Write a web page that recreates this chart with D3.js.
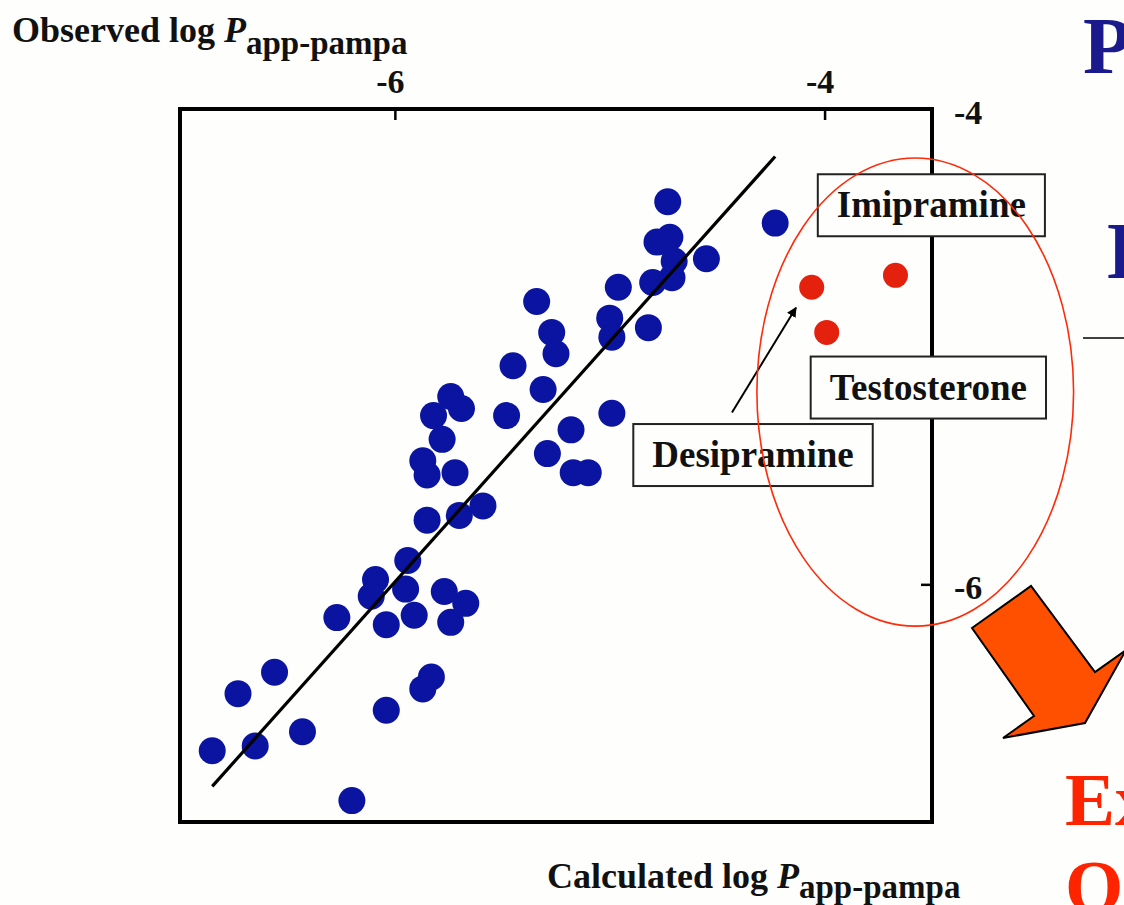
<!DOCTYPE html>
<html>
<head>
<meta charset="utf-8">
<script src="https://cdn.jsdelivr.net/npm/d3@7"></script>
<style>
  html, body { margin: 0; padding: 0; background: #fefefc; }
  svg { display: block; }
  text { font-family: "Liberation Serif", "Times New Roman", serif; font-weight: bold; }
</style>
</head>
<body>
<svg id="chart" width="1124" height="905"></svg>
<script>
// Compounds that follow the PAMPA model: calculated vs observed log Papp
const fitCalc = [-4.73, -4.78, -4.72, -4.55, -4.71, -4.70, -4.80, -4.96, -5.34, -5.00,
                 -4.99, -4.82, -5.27, -5.25, -5.45, -5.31, -5.74, -5.69, -5.82, -5.48,
                 -4.99, -5.18, -5.78, -5.29, -5.87, -5.85, -5.72, -5.17, -5.10, -5.85,
                 -5.70, -5.59, -5.94, -6.09, -6.11, -5.95, -6.27, -6.04, -5.91, -5.77,
                 -5.67, -5.74, -5.83, -5.87, -6.04, -6.56, -6.73, -6.85, -6.65, -6.43,
                 -6.20, -4.23];
const fitObs  = [-4.39, -4.56, -4.54, -4.63, -4.71, -4.64, -4.73, -4.75, -4.81, -4.88,
                 -4.96, -4.92, -4.94, -5.03, -5.08, -5.18, -5.21, -5.26, -5.29, -5.29,
                 -5.28, -5.35, -5.39, -5.45, -5.48, -5.54, -5.53, -5.53, -5.53, -5.73,
                 -5.71, -5.67, -5.90, -5.98, -6.05, -6.02, -6.14, -6.17, -6.13, -6.03,
                 -6.08, -6.16, -6.39, -6.44, -6.53, -6.37, -6.46, -6.70, -6.68, -6.62,
                 -6.91, -4.48];

// Outliers (Imipramine, Testosterone, Desipramine)
const outlierCalc = [-4.06, -3.67, -3.99];
const outlierObs  = [-4.75, -4.70, -4.94];

// Regression line end points
const lineCalc = [-6.85, -4.23];
const lineObs  = [-6.85, -4.20];

// Axis ticks
const xTicks = [-6, -4];
const yTicks = [-4, -6];

// Annotation labels
const labelNames = ["Imipramine", "Testosterone", "Desipramine"];

// ---- layout ----
const W = 1124, H = 905;
const frame = { left: 180, right: 932, top: 109, bottom: 822 };
const labelPos = [            // label centres, in data units
  { x: -3.503, y: -4.405 },
  { x: -3.517, y: -5.172 },
  { x: -4.333, y: -5.456 }
];
const pointerFrom = { x: -4.431, y: -5.277 };
const pointerTo   = { x: -4.133, y: -4.836 };
const ring = { cx: -3.578, cy: -5.191, rx: 0.737, ry: 0.985 };

const blue = "#0a14a0", red = "#e4210d";

const svg = d3.select("#chart");

const x = d3.scaleLinear().domain([-7, -3.5]).range([frame.left, frame.right]);
const y = d3.scaleLinear().domain([-7, -4]).range([frame.bottom, frame.top]);

svg.append("rect").attr("width", W).attr("height", H).attr("fill", "#fefefc");

// plot frame
svg.append("rect")
  .attr("x", x(-7)).attr("y", y(-4))
  .attr("width", x(-3.5) - x(-7)).attr("height", y(-7) - y(-4))
  .attr("fill", "none").attr("stroke", "#000").attr("stroke-width", 4);

// top axis (calculated values)
const plain = d => String(d);
const gx = svg.append("g").attr("transform", `translate(0,${frame.top})`)
  .call(d3.axisTop(x).tickValues(xTicks).tickFormat(plain)
          .tickSizeInner(-11).tickSizeOuter(0).tickPadding(16));
// right axis (observed values)
const gy = svg.append("g").attr("transform", `translate(${frame.right},0)`)
  .call(d3.axisRight(y).tickValues(yTicks).tickFormat(plain)
          .tickSizeInner(-11).tickSizeOuter(0).tickPadding(22));
[gx, gy].forEach(g => {
  g.select(".domain").remove();
  g.selectAll(".tick line").attr("stroke", "#000").attr("stroke-width", 2.5);
  g.selectAll(".tick text")
    .attr("font-size", 34).attr("font-family", "Liberation Serif, serif")
    .attr("font-weight", "bold").attr("fill", "#111");
});
gx.selectAll(".tick text").attr("dx", -5);
gy.selectAll(".tick text").attr("dy", "0.42em");

// axis titles
function title(xPos, yBase, main, sub, shift) {
  const t = svg.append("text").attr("x", xPos).attr("y", yBase)
    .attr("font-size", 36).attr("fill", "#111");
  t.append("tspan").text(main);
  t.append("tspan").attr("font-style", "italic").text("P");
  t.append("tspan").attr("font-size", 33).attr("dy", shift).text(sub);
}
title(12, 42, "Observed log ", "app-pampa", 12);
title(547, 888, "Calculated log ", "app-pampa", 10);

// data points
svg.append("g").selectAll("circle").data(d3.zip(fitCalc, fitObs)).join("circle")
  .attr("cx", d => x(d[0])).attr("cy", d => y(d[1])).attr("r", 13.5).attr("fill", blue);
svg.append("g").selectAll("circle").data(d3.zip(outlierCalc, outlierObs)).join("circle")
  .attr("cx", d => x(d[0])).attr("cy", d => y(d[1])).attr("r", 12.5).attr("fill", red);

// regression line
svg.append("path")
  .datum(d3.zip(lineCalc, lineObs))
  .attr("d", d3.line().x(d => x(d[0])).y(d => y(d[1])))
  .attr("fill", "none").attr("stroke", "#000").attr("stroke-width", 3.2);

// pointer to Desipramine
svg.append("defs").append("marker")
  .attr("id", "head").attr("viewBox", "0 0 10 10").attr("refX", 9).attr("refY", 5)
  .attr("markerWidth", 5).attr("markerHeight", 5).attr("orient", "auto")
  .append("path").attr("d", "M0,0L10,5L0,10Z").attr("fill", "#000");
svg.append("line")
  .attr("x1", x(pointerFrom.x)).attr("y1", y(pointerFrom.y))
  .attr("x2", x(pointerTo.x)).attr("y2", y(pointerTo.y))
  .attr("stroke", "#000").attr("stroke-width", 2).attr("marker-end", "url(#head)");

// label boxes
labelNames.forEach((name, i) => {
  const cx = x(labelPos[i].x), cy = y(labelPos[i].y);
  const g = svg.append("g");
  const box = g.append("rect");
  const t = g.append("text").attr("x", cx).attr("y", cy + 12)
    .attr("text-anchor", "middle").attr("font-size", 37).attr("fill", "#111").text(name);
  const w = t.node().getComputedTextLength() + 38, h = 62;
  box.attr("x", cx - w / 2).attr("y", cy - h / 2).attr("width", w).attr("height", h)
    .attr("fill", "#fefefc").attr("stroke", "#222").attr("stroke-width", 2);
});

// outlier ring
svg.append("ellipse")
  .attr("cx", x(ring.cx)).attr("cy", y(ring.cy))
  .attr("rx", x(ring.cx + ring.rx) - x(ring.cx)).attr("ry", y(ring.cy - ring.ry) - y(ring.cy))
  .attr("fill", "none").attr("stroke", "#ff2a0a").attr("stroke-width", 1.6);

// large arrow pointing down-right
const bigArrow = [[972, 628], [1031, 586], [1095, 672], [1126, 650], [1085, 723], [1003, 738], [1034, 716]];
svg.append("path")
  .attr("d", d3.line()(bigArrow) + "Z")
  .attr("fill", "#ff5000").attr("stroke", "#000").attr("stroke-width", 2).attr("stroke-linejoin", "miter");

// slide text running off the right edge
svg.append("text").attr("x", 1083).attr("y", 73).attr("font-size", 80).attr("fill", "#1a1a8c").text("P");
svg.append("text").attr("x", 1107).attr("y", 278).attr("font-size", 80).attr("fill", "#1a1a8c").text("D");
svg.append("line").attr("x1", 1083).attr("x2", 1124).attr("y1", 338).attr("y2", 338)
  .attr("stroke", "#000").attr("stroke-width", 1.5);
svg.append("text").attr("x", 1065).attr("y", 825).attr("font-size", 75).attr("fill", "#ff2400").text("Ex");
svg.append("text").attr("x", 1065).attr("y", 912).attr("font-size", 75).attr("fill", "#ff2400").text("O");
</script>
</body>
</html>
